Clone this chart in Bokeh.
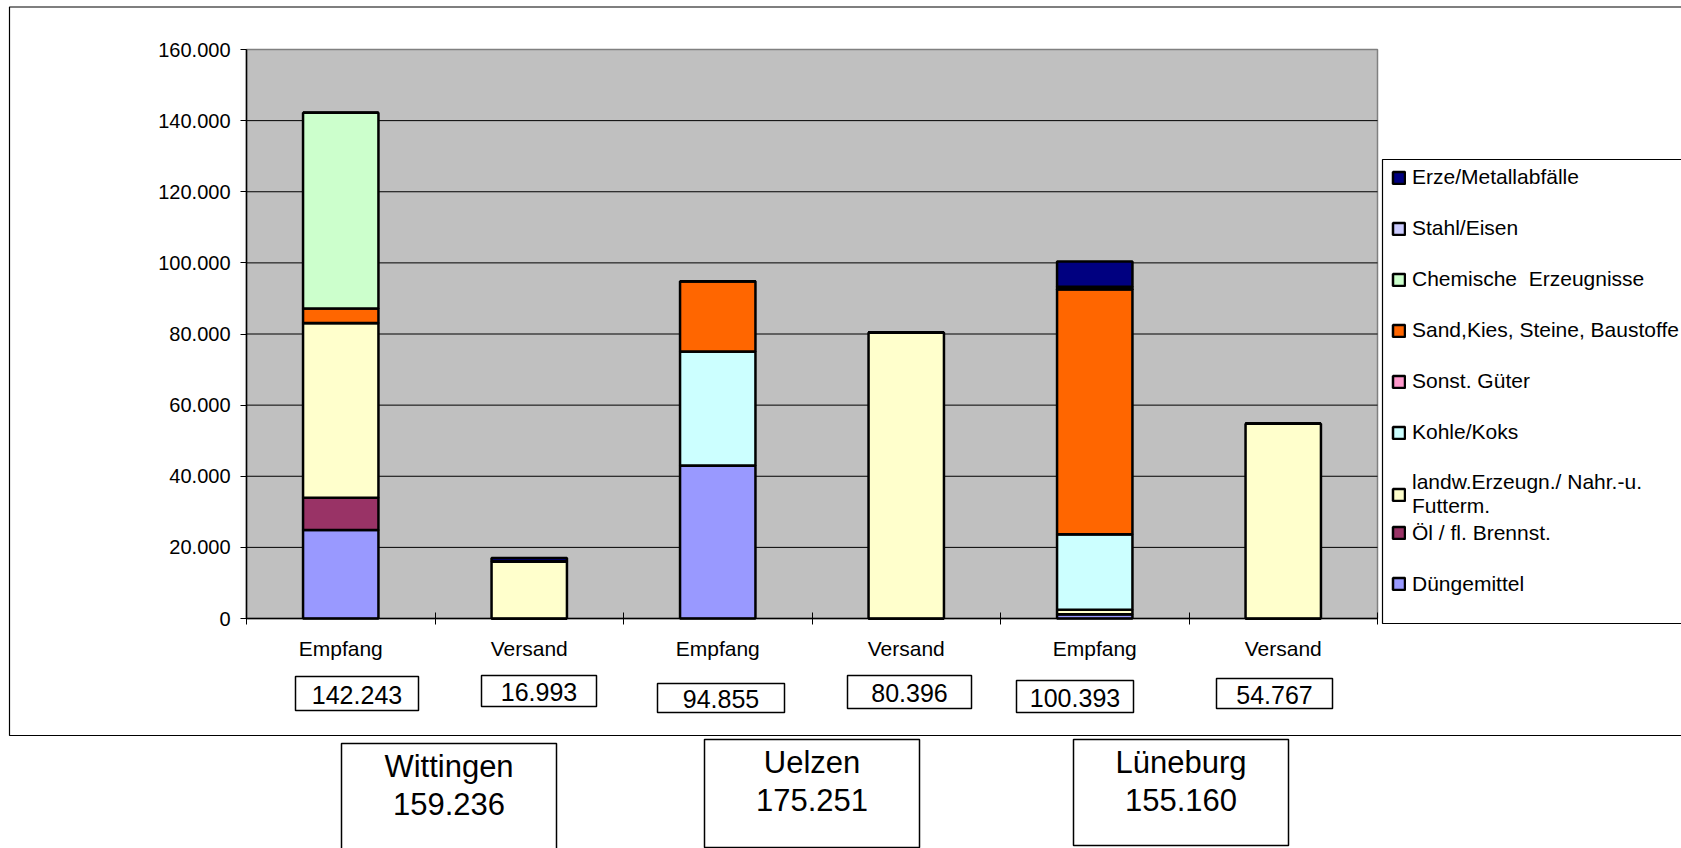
from bokeh.plotting import figure
from bokeh.models import (Range1d, FixedTicker, Legend, LegendItem, Label,
                          BoxAnnotation, ColumnDataSource)
from bokeh.embed import file_html
from bokeh.resources import INLINE

# ---------------- data ----------------
categories = ["Empfang", "Versand", "Empfang", "Versand", "Empfang", "Versand"]
cities = ["Wittingen", "Uelzen", "Lüneburg"]

duengemittel = [24900, 0, 43000, 0, 1200, 0]
oel = [9050, 0, 0, 0, 0, 0]
landw = [49150, 16093, 0, 80396, 1250, 54767]
kohle = [0, 0, 32100, 0, 21250, 0]
sonst = [0, 0, 0, 0, 0, 0]
sand = [4050, 0, 19755, 0, 68900, 0]
chemie = [55093, 0, 0, 0, 0, 0]
stahl = [0, 0, 0, 0, 700, 0]
erze = [0, 900, 0, 0, 7093, 0]

series_names = ["Düngemittel", "Öl / fl. Brennst.", "landw.Erzeugn./ Nahr.-u.\nFutterm.",
                "Kohle/Koks", "Sonst. Güter", "Sand,Kies, Steine, Baustoffe",
                "Chemische  Erzeugnisse", "Stahl/Eisen", "Erze/Metallabfälle"]
series_values = [duengemittel, oel, landw, kohle, sonst, sand, chemie, stahl, erze]
series_colors = ["#9999FF", "#993366", "#FFFFCC", "#CCFFFF", "#FF99CC",
                 "#FF6600", "#CCFFCC", "#CCCCFF", "#000080"]

y_ticks = [0, 20000, 40000, 60000, 80000, 100000, 120000, 140000, 160000]
y_tick_labels = ["0", "20.000", "40.000", "60.000", "80.000", "100.000",
                 "120.000", "140.000", "160.000"]

def fmt(v):
    return f"{v:,}".replace(",", ".")

FONT = "Liberation Sans"

# ---------------- layout (pixels in the browser window) ----------------
W, H = 1681, 848          # canvas size
OX, OY = 0, 0             # canvas origin in the window
PA_L, PA_R, PA_T, PA_B = 246, 1377, 49, 618   # plot area in window pixels

n = len(categories)
y_max = y_ticks[-1]
xpp = n / (PA_R - PA_L)          # data units per pixel (x)
ypp = y_max / (PA_B - PA_T)      # data units per pixel (y)
x_range = Range1d(-(PA_L - OX) * xpp, n + (OX + W - PA_R) * xpp)
y_range = Range1d(-(OY + H - PA_B) * ypp, y_max + (PA_T - OY) * ypp)

p = figure(x_range=x_range, y_range=y_range, width=W, height=H,
           min_border=0, min_border_left=0, min_border_right=0,
           min_border_top=0, min_border_bottom=0,
           output_backend="svg", toolbar_location=None,
           background_fill_color="white", border_fill_color="white",
           outline_line_color=None)

# plot area background + border
p.quad(left=[0], right=[n], bottom=[0], top=[y_max], fill_color="#C0C0C0",
       line_color="#808080", line_width=1.5)
# horizontal gridlines
grid_y = y_ticks[1:-1]
p.segment(x0=[0] * len(grid_y), x1=[n] * len(grid_y), y0=grid_y, y1=grid_y,
          line_color="black", line_width=1)

xs = [i + 0.5 for i in range(n)]
keys = [f"s{i}" for i in range(len(series_names))]
data = {"x": xs}
for k, vals in zip(keys, series_values):
    data[k] = vals
source = ColumnDataSource(data)

renderers = p.vbar_stack(keys, x="x", width=0.4, source=source,
                         fill_color=series_colors, line_color="black",
                         line_width=2.5)

# axes drawn inside the frame at fixed positions
p.xgrid.visible = False
p.ygrid.visible = False

yax = p.yaxis[0]
yax.fixed_location = 0
yax.bounds = (0, y_max)
yax.ticker = FixedTicker(ticks=y_ticks, minor_ticks=[])
yax.major_label_overrides = {t: l for t, l in zip(y_ticks, y_tick_labels)}
yax.major_tick_in = 0
yax.major_tick_out = 6
yax.minor_tick_line_color = None
yax.major_label_standoff = 10
yax.axis_line_color = "black"
yax.axis_line_width = 1.5
yax.major_tick_line_color = "black"
yax.major_label_text_font = FONT
yax.major_label_text_font_size = "20px"
yax.major_label_text_color = "black"

xax = p.xaxis[0]
xax.fixed_location = 0
xax.bounds = (0, n)
xax.ticker = FixedTicker(ticks=xs, minor_ticks=list(range(n + 1)))
xax.major_label_overrides = {x: c for x, c in zip(xs, categories)}
xax.major_tick_line_color = None
xax.major_tick_in = 0
xax.major_tick_out = 0
xax.minor_tick_in = 6
xax.minor_tick_out = 6
xax.minor_tick_line_color = "black"
xax.axis_line_color = "black"
xax.axis_line_width = 1.5
xax.major_label_standoff = 12
xax.major_label_text_font = FONT
xax.major_label_text_font_size = "21px"
xax.major_label_text_color = "black"

# ---------------- screen-pixel helpers ----------------
def sx(X):
    return X - OX

def sy(Y):
    return OY + H - Y

def box(l, t, r, b, lw=1.0):
    return BoxAnnotation(left=sx(l), right=sx(r), top=sy(t), bottom=sy(b),
                         left_units="screen", right_units="screen",
                         top_units="screen", bottom_units="screen",
                         fill_alpha=0, line_color="black", line_width=lw,
                         line_alpha=1)

def label(text, cx, cy, size):
    return Label(x=sx(cx), y=sy(cy), x_units="screen", y_units="screen",
                 text=text, text_align="center", text_baseline="middle",
                 text_font=FONT, text_font_size=size, text_color="black")

# outer chart area border
p.add_layout(box(9, 6.5, 1720, 735, lw=1.2))

# legend frame + legend entries (top item = last stacked series)
p.add_layout(box(1382, 159, 1720, 623, lw=1.2))
items = [LegendItem(label=nm, renderers=[r]) for nm, r in zip(series_names, renderers)][::-1]
legend_style = dict(padding=8, spacing=25, glyph_width=15, glyph_height=15,
                    label_standoff=6, label_height=26,
                    label_text_font=FONT, label_text_font_size="21px",
                    label_text_color="black", border_line_color=None,
                    background_fill_alpha=0, margin=0)
# upper block: Erze ... landw (incl. two-line label), lower block: Öl, Düngemittel
p.add_layout(Legend(items=items[:7], location=(sx(1391), sy(518)), **legend_style))
p.add_layout(Legend(items=items[7:], location=(sx(1391), sy(596.5)), **legend_style))

totals = [sum(v[i] for v in series_values) for i in range(n)]
value_boxes = [(295, 676, 418, 710), (481, 675, 596, 706), (657, 683, 784, 712),
               (847, 675, 971, 708), (1016, 680, 1133, 712), (1216, 678, 1332, 708)]
for tot, (l, t, r, b) in zip(totals, value_boxes):
    p.add_layout(box(l, t, r, b, lw=1.5))
    p.add_layout(label(fmt(tot), (l + r) / 2, (t + b) / 2 + 1, "25px"))

city_totals = [totals[2 * i] + totals[2 * i + 1] for i in range(len(cities))]
city_boxes = [(341, 743, 556, 870), (704, 739, 919, 847), (1073, 739, 1288, 845)]
for name, tot, (l, t, r, b) in zip(cities, city_totals, city_boxes):
    p.add_layout(box(l, t, r, b, lw=1.5))
    cx = (l + r) / 2
    p.add_layout(label(name, cx, t + 23, "31px"))
    p.add_layout(label(fmt(tot), cx, t + 60, "31px"))

open("out.html", "w").write(file_html(p, INLINE))
